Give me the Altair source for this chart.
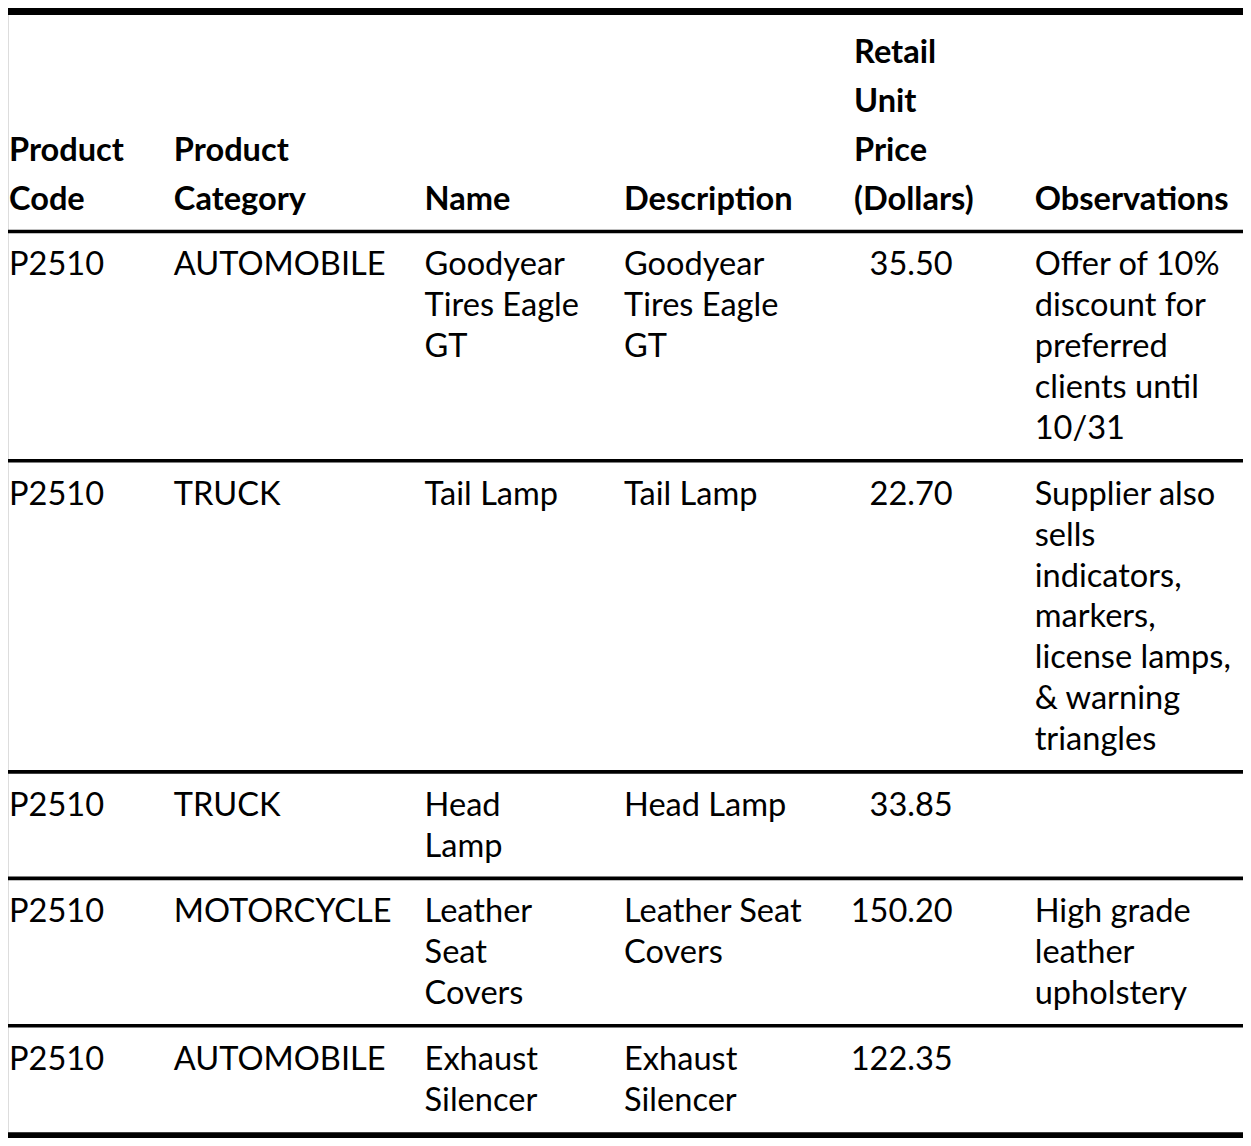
import altair as alt
import pandas as pd

# ---------------- content ----------------
header_lines = [
    ["Product", "Code"],
    ["Product", "Category"],
    ["Name"],
    ["Description"],
    ["Retail", "Unit", "Price", "(Dollars)"],
    ["Observations"],
]
codes = ["P2510", "P2510", "P2510", "P2510", "P2510"]
categories = ["AUTOMOBILE", "TRUCK", "TRUCK", "MOTORCYCLE", "AUTOMOBILE"]
names = [
    ["Goodyear", "Tires Eagle", "GT"],
    ["Tail Lamp"],
    ["Head", "Lamp"],
    ["Leather", "Seat", "Covers"],
    ["Exhaust", "Silencer"],
]
descriptions = [
    ["Goodyear", "Tires Eagle", "GT"],
    ["Tail Lamp"],
    ["Head Lamp"],
    ["Leather Seat", "Covers"],
    ["Exhaust", "Silencer"],
]
prices = [35.50, 22.70, 33.85, 150.20, 122.35]
observations = [
    ["Offer of 10%", "discount for", "preferred", "clients until", "10/31"],
    ["Supplier also", "sells", "indicators,", "markers,", "license lamps,", "& warning", "triangles"],
    [],
    ["High grade", "leather", "upholstery"],
    [],
]

# ---------------- layout (style) ----------------
REF_W, REF_H = 1251, 1146
W, H = 1235, 1130
S = W / REF_W
FONT = "Lato"
FS = 33
col_anchor = {"code": 1, "category": 168, "name": 422, "description": 624,
              "price": 857, "price_r": 957, "observations": 1040}
HEAD_LH, BODY_LH = 49.5, 41.5
TOP_PAD, BOT_PAD = 44.5, 22.0

head_cols = ["code", "category", "name", "description", "price", "observations"]

texts = []
rules = [{"y": 3.5, "w": 7.0}]
header_rule = 226.7
head_last = header_rule - BOT_PAD
for key, lines in zip(head_cols, header_lines):
    for i, t in enumerate(lines):
        texts.append({"col": key, "x": col_anchor[key],
                      "y": head_last - (len(lines) - 1 - i) * HEAD_LH,
                      "text": t, "kind": "head"})
rules.append({"y": header_rule, "w": 3.6})

top = header_rule
for r in range(len(codes)):
    cells = [
        ("code", [codes[r]]),
        ("category", [categories[r]]),
        ("name", names[r]),
        ("description", descriptions[r]),
        ("price_r", [f"{prices[r]:.2f}"]),
        ("observations", observations[r]),
    ]
    n = max(len(c[1]) for c in cells)
    first = top + TOP_PAD
    for key, lines in cells:
        for i, t in enumerate(lines):
            texts.append({"col": key, "x": col_anchor[key], "y": first + i * BODY_LH,
                          "text": t, "kind": "num" if key == "price_r" else "body"})
    last = first + (n - 1) * BODY_LH
    top = last + BOT_PAD
    if r < len(codes) - 1:
        rules.append({"y": top, "w": 3.6})
    else:
        rules.append({"y": top + 4.5, "w": 9.0})

tdf = pd.DataFrame(texts)
rdf = pd.DataFrame(rules)

xs = alt.Scale(domain=[0, REF_W], range=[0, W], nice=False, zero=False)
ys = alt.Scale(domain=[0, REF_H], range=[0, H], nice=False, zero=False)

base = alt.Chart(tdf).encode(
    x=alt.X("x:Q", scale=xs, axis=None),
    y=alt.Y("y:Q", scale=ys, axis=None),
    text="text:N",
)

head = base.transform_filter(alt.datum.kind == "head").mark_text(
    align="left", baseline="alphabetic", font=FONT, fontSize=FS * S,
    fontWeight="bold", color="black")
body = base.transform_filter(alt.datum.kind == "body").mark_text(
    align="left", baseline="alphabetic", font=FONT, fontSize=FS * S, color="black")
nums = base.transform_filter(alt.datum.kind == "num").mark_text(
    align="right", baseline="alphabetic", font=FONT, fontSize=FS * S, color="black")

rule = alt.Chart(rdf).mark_rule(color="black").encode(
    y=alt.Y("y:Q", scale=ys, axis=None),
    strokeWidth=alt.StrokeWidth("w:Q", scale=alt.Scale(domain=[0, 10], range=[0, 10 * S]), legend=None),
    x=alt.value(0),
    x2=alt.value(W),
)

chart = alt.layer(rule, head, body, nums).properties(
    width=W, height=H, padding=0, autosize=alt.AutoSizeParams(type="none")
).configure_view(stroke=None).configure(background="white")

chart.save("out.html", embed_options={"renderer": "svg", "actions": False})
